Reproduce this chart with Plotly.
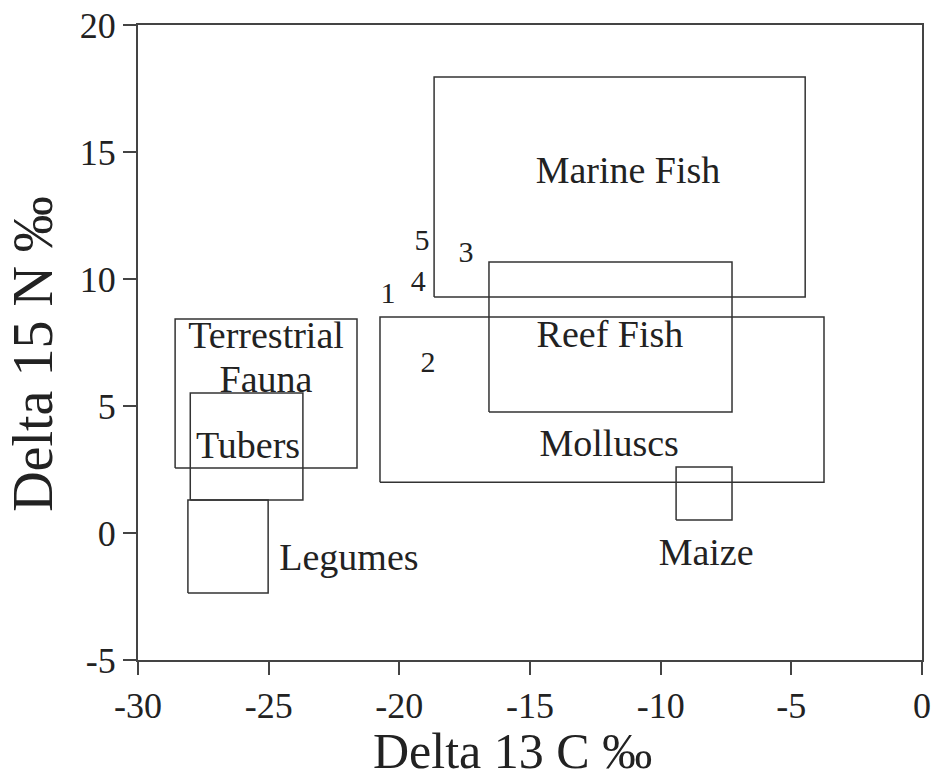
import plotly.graph_objects as go

# Box ranges (delta 13C min/max, delta 15N min/max)
box_names = ["Marine Fish", "Reef Fish", "Molluscs", "Maize", "Terrestrial Fauna", "Tubers", "Legumes"]
c_min = [-18.67, -16.57, -20.74, -9.41, -28.58, -28.0, -28.09]
c_max = [-4.47, -7.27, -3.75, -7.27, -21.62, -23.69, -25.02]
n_min = [9.29, 4.76, 2.0, 0.51, 2.56, 1.3, -2.36]
n_max = [17.95, 10.67, 8.5, 2.6, 8.43, 5.51, 1.3]

# Label positions
label_text = ["Marine Fish", "Reef Fish", "Molluscs", "Maize", "Terrestrial", "Fauna", "Tubers", "Legumes"]
label_x = [-11.25, -11.94, -11.97, -8.26, -25.1, -25.1, -25.79, -21.93]
label_y = [14.17, 7.71, 3.42, -0.87, 7.64, 5.94, 3.34, -1.10]

# Sample points (numbered)
pt_labels = ["1", "2", "3", "4", "5"]
pt_x = [-20.43, -18.9, -17.45, -19.28, -19.13]
pt_y = [9.36, 6.63, 10.96, 9.82, 11.44]

xticks = [-30, -25, -20, -15, -10, -5, 0]
yticks = [-5, 0, 5, 10, 15, 20]

x_title = "Delta 13 C ‰"
y_title = "Delta 15 N ‰"

SERIF = "Liberation Serif, Times New Roman, serif"
INK = "#222222"

fig = go.Figure()
for i, name in enumerate(box_names):
    fig.add_trace(go.Scatter(
        x=[c_min[i], c_max[i], c_max[i], c_min[i], c_min[i]],
        y=[n_min[i], n_min[i], n_max[i], n_max[i], n_min[i]],
        mode="lines", line=dict(color="#333333", width=1.5),
        showlegend=False, hoverinfo="skip", name=name))

fig.add_trace(go.Scatter(
    x=label_x, y=label_y, text=label_text, mode="text",
    textfont=dict(family=SERIF, size=38, color=INK),
    showlegend=False, hoverinfo="skip"))

fig.add_trace(go.Scatter(
    x=pt_x, y=pt_y, text=pt_labels, mode="text",
    textfont=dict(family=SERIF, size=30, color=INK),
    showlegend=False, hoverinfo="skip"))

axis_common = dict(
    showgrid=False, zeroline=False, showline=True, linecolor="#444444", linewidth=2,
    mirror=True, ticks="outside", ticklen=13, tickwidth=2, tickcolor="#444444",
    tickfont=dict(family=SERIF, size=36, color=INK),
    ticklabeloverflow="allow",
)
fig.update_xaxes(range=[-30, 0], tickvals=xticks, ticktext=[str(v) for v in xticks], **axis_common)
fig.update_yaxes(range=[-5, 20], tickvals=yticks, ticktext=[str(v) for v in yticks], **axis_common)

fig.add_annotation(text=x_title, xref="paper", yref="paper", x=0.478, y=-0.1435,
                   xanchor="center", yanchor="middle", showarrow=False,
                   font=dict(family=SERIF, size=50, color=INK))
fig.add_annotation(text=y_title, xref="paper", yref="paper", x=-0.134, y=0.482,
                   xanchor="center", yanchor="middle", showarrow=False, textangle=-90,
                   font=dict(family=SERIF, size=56, color=INK))

fig.update_layout(
    width=935, height=779,
    font=dict(family=SERIF),
    margin=dict(l=138, r=13, t=25, b=119, autoexpand=False),
    plot_bgcolor="white", paper_bgcolor="white",
)
fig.write_html("out.html", config={"displayModeBar": False},
               post_script="document.body.style.margin='0';document.body.style.overflow='hidden';")
